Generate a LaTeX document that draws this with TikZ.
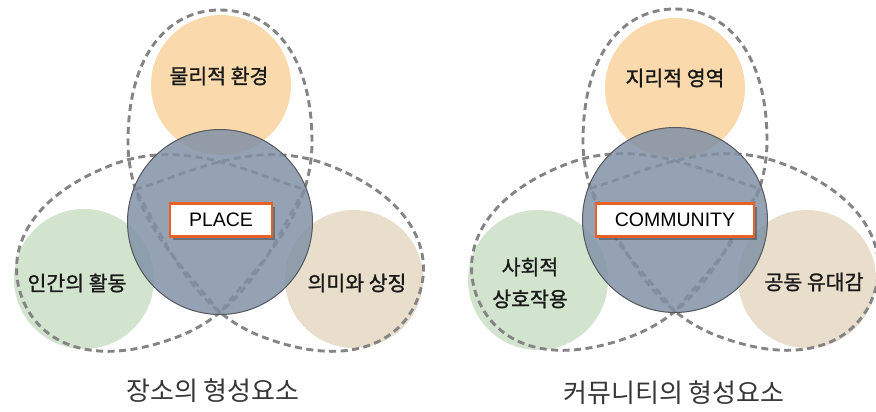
\documentclass[tikz,border=0pt]{standalone}
\usepackage{fontspec}
\newfontfamily\kr[FakeBold=1.2]{Noto Sans CJK KR}
\newfontfamily\krc{Noto Sans CJK KR}
\newfontfamily\lat{Liberation Sans}
\usetikzlibrary{shadows}
\definecolor{orangec}{RGB}{250,217,172}
\definecolor{greenc}{RGB}{211,228,206}
\definecolor{beigec}{RGB}{233,222,203}
\definecolor{slatec}{RGB}{128,145,166}
\definecolor{rimc}{RGB}{85,88,92}
\definecolor{dashc}{RGB}{132,132,132}
\definecolor{boxc}{RGB}{232,98,38}
\definecolor{txtc}{RGB}{25,25,25}
\definecolor{capc}{RGB}{55,55,55}
\tikzset{
  outer/.style={circle, minimum size=140pt, inner sep=0pt, draw=none},
  petalline/.style={draw=dashc, line width=2.9pt, dash pattern=on 7pt off 4.5pt},
  petal/.pic={\path[petalline] (0,91) .. controls (-30,50) and (-92,0) .. (-92,-80)
      .. controls (-92,-170) and (-50,-212) .. (0,-212)
      .. controls (50,-212) and (92,-170) .. (92,-80)
      .. controls (92,0) and (30,50) .. cycle;},
  core/.style={circle, minimum size=185pt, inner sep=0pt, fill=slatec, fill opacity=0.84, draw=rimc, draw opacity=1, line width=1pt},
  tagbox/.style={draw=boxc, line width=2.5pt, fill=white, minimum height=33pt, inner sep=0pt,
     font=\lat\fontsize{19.5}{22}\selectfont, text=black,
     drop shadow={shadow xshift=3pt, shadow yshift=-3pt, opacity=0.3, fill=black}},
  lab/.style={font=\kr\fontsize{20.5}{32}\selectfont, text=txtc, align=center},
  captext/.style={font=\krc\fontsize{26}{28}\selectfont, text=capc}
}
\begin{document}
\begin{tikzpicture}[x=1pt,y=-1pt]
\useasboundingbox (0,0) rectangle (876,412);
\fill[white] (0,0) rectangle (876,412);
% ---------- left diagram ----------
\node[outer, fill=orangec] (t1) at (221,85) {};
\node[outer, fill=greenc] (l1) at (84,279) {};
\node[outer, fill=beigec, minimum size=138pt] (r1) at (354,279) {};
\pic at (220,222) {petal};
\pic[rotate=111] at (220,222) {petal};
\pic[rotate=-111] at (220,222) {petal};
\node[core] (c1) at (220,222) {};
\node[tagbox, minimum width=102pt] (p1) at (221,220) {PLACE};
\node[lab] (tl1) at (219,76) {물리적 환경};
\node[lab] (ll1) at (77,283) {인간의 활동};
\node[lab] (rl1) at (357,283) {의미와 상징};
\node[captext] (cap1) at (213,391) {장소의 형성요소};
% ---------- right diagram ----------
\node[outer, fill=orangec] (t2) at (675,88) {};
\node[outer, fill=greenc] (l2) at (538,280) {};
\node[outer, fill=beigec, minimum size=138pt] (r2) at (807,279) {};
\pic at (675,221) {petal};
\pic[rotate=111] at (675,221) {petal};
\pic[rotate=-111] at (675,221) {petal};
\node[core] (c2) at (675,220) {};
\node[tagbox, minimum width=158pt] (p2) at (675,220) {COMMUNITY};
\node[lab] (tl2) at (675,78) {지리적 영역};
\node[lab] (ll2) at (530,283) {사회적\\상호작용};
\node[lab] (rl2) at (814,282) {공동 유대감};
\node[captext] (cap2) at (674,393) {커뮤니티의 형성요소};
\end{tikzpicture}
\end{document}
